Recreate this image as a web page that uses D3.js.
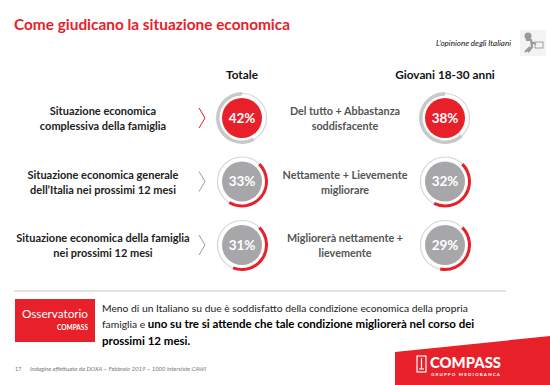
<!DOCTYPE html>
<html>
<head>
<meta charset="utf-8">
<script src="https://cdn.jsdelivr.net/npm/d3@7"></script>
<style>
  body { margin: 0; background: #fff; }
  svg { display: block; font-family: Lato, "Open Sans", sans-serif; }
</style>
</head>
<body>
<svg id="chart" width="550" height="385"></svg>
<script>
// Data
const columns = ['Totale', 'Giovani 18-30 anni'];
const rowLabels = [
  ['Situazione economica', 'complessiva della famiglia'],
  ['Situazione economica generale', 'dell\u2019Italia nei prossimi 12 mesi'],
  ['Situazione economica della famiglia', 'nei prossimi 12 mesi']
];
const answerLabels = [
  ['Del tutto + Abbastanza', 'soddisfacente'],
  ['Nettamente + Lievemente', 'migliorare'],
  ['Migliorer\u00e0 nettamente +', 'lievemente']
];
const totale = [42, 33, 31];
const giovani = [38, 32, 29];

const red = '#e8202a';
const grey = '#a7a7a9';
const pi = Math.PI;

const svg = d3.select('#chart');

const x = d3.scalePoint().domain(columns).range([242, 445]);
const y = d3.scalePoint().domain(d3.range(rowLabels.length)).range([118, 245]);
// remainder share on the satisfaction gauges
const restAngle = d3.scaleLinear().domain([0, 100]).range([0, 2 * pi]);
// decorative red arc on the outlook gauges
const arcAngle = d3.scaleLinear().domain([0, 100]).range([0, 2.8 * pi]);

// Title
svg.append('text')
  .attr('x', 14).attr('y', 30)
  .attr('fill', red)
  .style('font-size', '16px').style('font-weight', 700)
  .attr('textLength', 276).attr('lengthAdjust', 'spacingAndGlyphs')
  .text('Come giudicano la situazione economica');

svg.append('text')
  .attr('x', 511).attr('y', 46)
  .attr('text-anchor', 'end')
  .style('font-size', '8px').style('font-style', 'italic')
  .attr('fill', '#111')
  .text('L\u2019opinione degli Italiani');

// small figure icon
const icon = svg.append('g').attr('transform', 'translate(520,30)');
icon.append('rect').attr('x', 0).attr('y', 0).attr('width', 26).attr('height', 26).attr('fill', '#f3f3f3');
icon.append('circle').attr('cx', 8).attr('cy', 6).attr('r', 3.5).attr('fill', '#9a9a9a');
icon.append('path').attr('d', 'M6 10 L11 10 L12 17 L8 22 M10 17 L5 22 M11 12 L16 14')
  .attr('stroke', '#9a9a9a').attr('stroke-width', 2.2).attr('fill', 'none');
icon.append('rect').attr('x', 15).attr('y', 12).attr('width', 8).attr('height', 6)
  .attr('fill', 'none').attr('stroke', '#a0a0a0').attr('stroke-width', 1);

// Column headers
svg.selectAll('.colhead').data(columns).join('text')
  .attr('class', 'colhead')
  .attr('x', d => x(d)).attr('y', 79)
  .attr('text-anchor', 'middle')
  .style('font-size', '11.8px').style('font-weight', 700)
  .attr('fill', '#111')
  .text(d => d);

// Row labels
rowLabels.forEach((lines, i) => {
  const t = svg.append('text')
    .attr('text-anchor', 'middle')
    .style('font-size', '11px').style('font-weight', 700)
    .attr('fill', '#222');
  lines.forEach((line, j) => {
    t.append('tspan')
      .attr('x', 103)
      .attr('y', y(i) - 3 + j * 15)
      .text(line);
  });

  svg.append('polyline')
    .attr('points', `${199},${y(i) - 10} ${205},${y(i)} ${199},${y(i) + 10}`)
    .attr('fill', 'none')
    .attr('stroke', i === 0 ? red : '#9c9c9c')
    .attr('stroke-width', 1);
});

answerLabels.forEach((lines, i) => {
  const t = svg.append('text')
    .attr('text-anchor', 'middle')
    .style('font-size', '10.8px').style('font-weight', 700)
    .attr('fill', '#555');
  lines.forEach((line, j) => {
    t.append('tspan')
      .attr('x', 345)
      .attr('y', y(i) - 3 + j * 15)
      .text(line);
  });
});

// Gauges
function drawGauge(cx, cy, value, row) {
  const g = svg.append('g').attr('transform', `translate(${cx},${cy})`);
  g.append('circle').attr('r', 24.5).attr('fill', 'none')
    .attr('stroke', '#d6d6d6').attr('stroke-width', 1.2);
  if (row === 0) {
    const a = restAngle(100 - value);
    g.append('path')
      .attr('d', d3.arc().innerRadius(22.5).outerRadius(26)
        .startAngle(2 * pi - a).endAngle(2 * pi)())
      .attr('fill', '#c8c8c8');
  } else {
    const start = pi / 4;
    g.append('path')
      .attr('d', d3.arc().innerRadius(23).outerRadius(26)
        .startAngle(start).endAngle(start + arcAngle(value)))
      .attr('fill', red);
  }
  g.append('circle').attr('r', 20).attr('fill', row === 0 ? red : grey);
  g.append('text')
    .attr('text-anchor', 'middle').attr('dy', '0.36em')
    .style('font-size', '13.5px').style('font-weight', 700)
    .attr('fill', '#fff')
    .text(value + '%');
}

totale.forEach((v, i) => drawGauge(x(columns[0]), y(i), v, i));
giovani.forEach((v, i) => drawGauge(x(columns[1]), y(i), v, i));

// Separator
svg.append('line')
  .attr('x1', 14).attr('x2', 506).attr('y1', 291).attr('y2', 291)
  .attr('stroke', '#c8c8c8').attr('stroke-width', 1);

// Osservatorio box
svg.append('rect').attr('x', 15).attr('y', 299).attr('width', 80).attr('height', 43).attr('fill', red);
svg.append('text')
  .attr('x', 55).attr('y', 318).attr('text-anchor', 'middle')
  .style('font-size', '12px').attr('fill', '#fff')
  .attr('textLength', 66).attr('lengthAdjust', 'spacingAndGlyphs')
  .text('Osservatorio');
svg.append('text')
  .attr('x', 88).attr('y', 330).attr('text-anchor', 'end')
  .style('font-size', '6.5px').style('font-weight', 700).attr('fill', '#fff')
  .text('COMPASS');

// Summary text
const summary = svg.append('text').attr('fill', '#222');
summary.append('tspan').attr('x', 102).attr('y', 312)
  .style('font-size', '10.3px')
  .text('Meno di un Italiano su due \u00e8 soddisfatto della condizione economica della propria');
summary.append('tspan').attr('x', 102).attr('y', 328)
  .style('font-size', '10.3px')
  .text('famiglia e ');
summary.append('tspan')
  .style('font-size', '11.5px').style('font-weight', 700).attr('fill', '#000')
  .text('uno su tre si attende che tale condizione migliorer\u00e0 nel corso dei');
summary.append('tspan').attr('x', 102).attr('y', 345)
  .style('font-size', '11.5px').style('font-weight', 700).attr('fill', '#000')
  .text('prossimi 12 mesi.');

// Footer
svg.append('text')
  .attr('x', 15).attr('y', 371)
  .style('font-size', '5.5px').attr('fill', '#777')
  .text('17');
svg.append('text')
  .attr('x', 30).attr('y', 371)
  .style('font-size', '6px').style('font-style', 'italic').attr('fill', '#777')
  .text('Indagine effettuata da DOXA \u2013 Febbraio 2019 \u2013 1000 interviste CAWI');

// Compass logo
svg.append('path').attr('d', 'M395,352 L550,336 L550,385 L395,385 Z').attr('fill', red);
svg.append('rect').attr('x', 417).attr('y', 356).attr('width', 9).attr('height', 16)
  .attr('fill', 'none').attr('stroke', '#fff').attr('stroke-width', 1.2);
svg.append('path').attr('d', 'M421.5,358 L421.5,369 M419,369 L424,369').attr('stroke', '#fff').attr('stroke-width', 1.2);
svg.append('text')
  .attr('x', 430).attr('y', 368)
  .style('font-size', '15px').style('font-weight', 900).attr('fill', '#fff')
  .attr('textLength', 71).attr('lengthAdjust', 'spacingAndGlyphs')
  .text('COMPASS');
svg.append('text')
  .attr('x', 431).attr('y', 376)
  .style('font-size', '4.5px').style('font-weight', 700).attr('fill', '#fff')
  .attr('textLength', 69).attr('lengthAdjust', 'spacing')
  .text('GRUPPO MEDIOBANCA');
</script>
</body>
</html>
